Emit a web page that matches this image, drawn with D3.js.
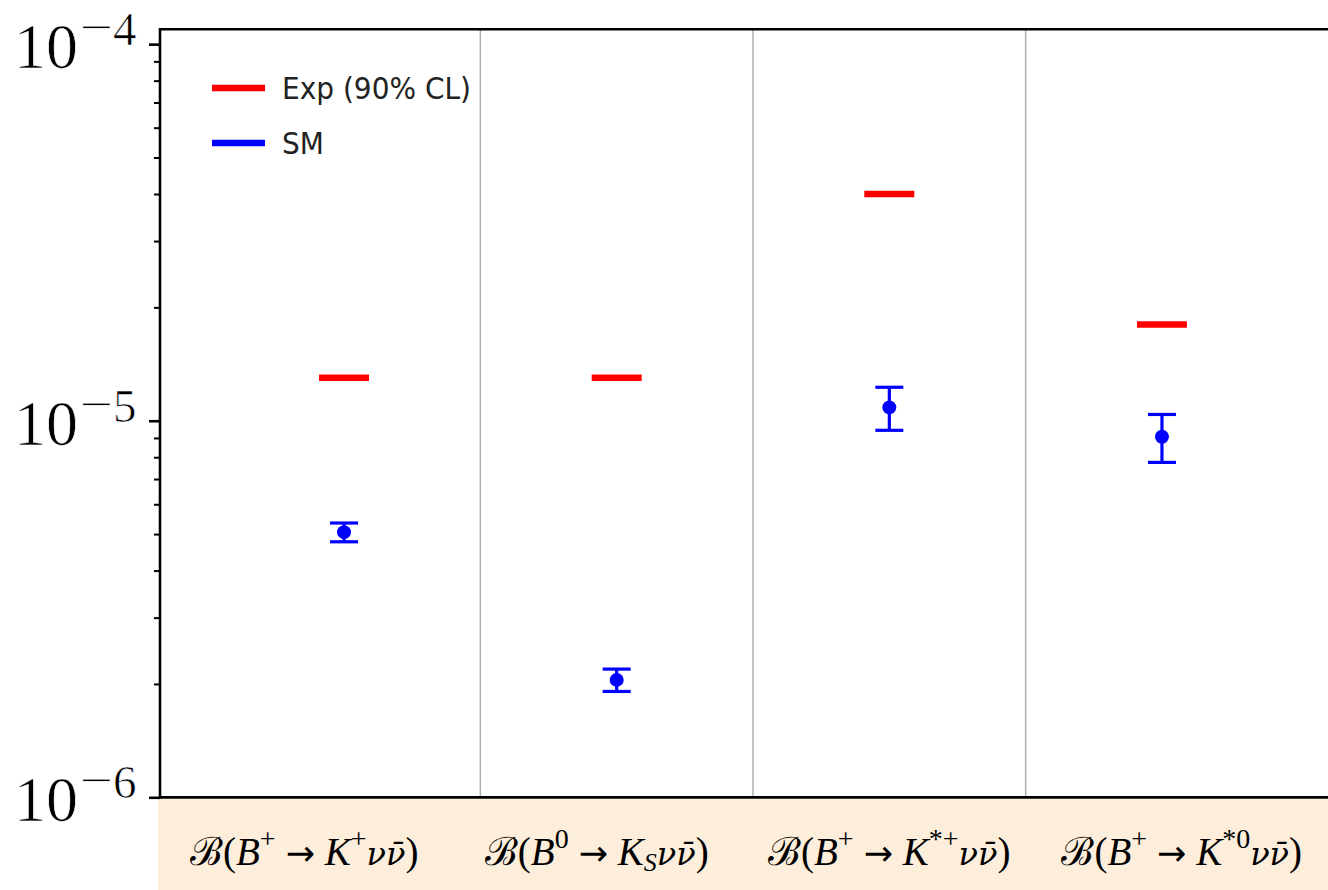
<!DOCTYPE html>
<html>
<head>
<meta charset="utf-8">
<script src="https://cdn.jsdelivr.net/npm/d3@7"></script>
<style>
  html, body { margin: 0; padding: 0; background: #ffffff; }
  svg { display: block; }
</style>
</head>
<body>
<svg id="chart" width="1328" height="890"></svg>
<script>
// Decay channels (x positions 0..3)
const categories = ["B+ -> K+ nu nubar", "B0 -> KS nu nubar", "B+ -> K*+ nu nubar", "B+ -> K*0 nu nubar"];
// Experimental upper limits at 90% CL
const expLimit = [1.3e-5, 1.3e-5, 4.0e-5, 1.8e-5];
// Standard Model predictions and their uncertainties
const smValue = [5.06e-6, 2.05e-6, 1.085e-5, 9.07e-6];
const smError = [0.29e-6, 0.14e-6, 1.42e-6, 1.32e-6];
// Y-axis decades and their exponent labels
const yMajorTicks = [1e-6, 1e-5, 1e-4];
const yTickExponents = ["6", "5", "4"];
// Legend entries
const legendLabels = ["Exp (90% CL)", "SM"];
// Channel labels in the table row: [text, style]
// n = upright, i = italic, g = italic greek, a = arrow, sup = superscript, sub = italic subscript
const channelLabels = [
  [["\u212C", "n"], ["(", "n"], ["B", "i"], ["+", "sup"], ["\u2192", "a"], ["K", "i"], ["+", "sup"], ["\u03BD", "g"], ["\u03BD\u0304", "g"], [")", "n"]],
  [["\u212C", "n"], ["(", "n"], ["B", "i"], ["0", "sup"], ["\u2192", "a"], ["K", "i"], ["S", "sub"], ["\u03BD", "g"], ["\u03BD\u0304", "g"], [")", "n"]],
  [["\u212C", "n"], ["(", "n"], ["B", "i"], ["+", "sup"], ["\u2192", "a"], ["K", "i"], ["*+", "sup"], ["\u03BD", "g"], ["\u03BD\u0304", "g"], [")", "n"]],
  [["\u212C", "n"], ["(", "n"], ["B", "i"], ["+", "sup"], ["\u2192", "a"], ["K", "i"], ["*0", "sup"], ["\u03BD", "g"], ["\u03BD\u0304", "g"], [")", "n"]]
];

const svg = d3.select("#chart");
const plot = { left: 160, top: 29.3, right: 1328, bottom: 797.3 };
const band = { left: 158, top: 799, right: 1328, bottom: 890 };

const x = d3.scaleLinear().domain([-0.675, 3.609]).range([plot.left, plot.right]);
const y = d3.scaleLog().domain([1e-6, 1.095e-4]).range([plot.bottom, plot.top]);

const red = "#ff0000", blue = "#0000ff";
const serif = "'Liberation Serif', 'DejaVu Serif', serif";
const sans = "'DejaVu Sans', sans-serif";

// Table row under the axes
svg.append("rect")
  .attr("x", band.left).attr("y", band.top)
  .attr("width", band.right - band.left).attr("height", band.bottom - band.top)
  .attr("fill", "#fdeedb");

// Vertical separators between channels
svg.append("g").selectAll("line")
  .data(d3.range(categories.length - 1).map(i => i + 0.5))
  .join("line")
  .attr("x1", d => x(d)).attr("x2", d => x(d))
  .attr("y1", plot.top).attr("y2", plot.bottom)
  .attr("stroke", "#b0b0b0").attr("stroke-width", 1.5);

// Experimental limits
const halfW = 25 / (x(1) - x(0));
svg.append("g").selectAll("line")
  .data(expLimit)
  .join("line")
  .attr("x1", (d, i) => x(i - halfW)).attr("x2", (d, i) => x(i + halfW))
  .attr("y1", d => y(d)).attr("y2", d => y(d))
  .attr("stroke", red).attr("stroke-width", 6.5);

// SM predictions with error bars
const capW = 14 / (x(1) - x(0));
const sm = svg.append("g");
smValue.forEach((v, i) => {
  const lo = v - smError[i], hi = v + smError[i];
  sm.append("line")
    .attr("x1", x(i)).attr("x2", x(i))
    .attr("y1", y(lo)).attr("y2", y(hi))
    .attr("stroke", blue).attr("stroke-width", 3.2);
  [lo, hi].forEach(e => {
    sm.append("line")
      .attr("x1", x(i - capW)).attr("x2", x(i + capW))
      .attr("y1", y(e)).attr("y2", y(e))
      .attr("stroke", blue).attr("stroke-width", 3.2);
  });
  sm.append("circle")
    .attr("cx", x(i)).attr("cy", y(v)).attr("r", 7)
    .attr("fill", blue);
});

// Axis frame: left, top, bottom spines
const axisG = svg.append("g");
axisG.append("line").attr("x1", plot.left).attr("x2", plot.left)
  .attr("y1", plot.top - 1.3).attr("y2", plot.bottom + 1.3)
  .attr("stroke", "#000").attr("stroke-width", 2.6);
axisG.append("line").attr("x1", plot.left).attr("x2", plot.right)
  .attr("y1", plot.top).attr("y2", plot.top)
  .attr("stroke", "#000").attr("stroke-width", 2.6);
axisG.append("line").attr("x1", plot.left).attr("x2", plot.right)
  .attr("y1", plot.bottom).attr("y2", plot.bottom)
  .attr("stroke", "#000").attr("stroke-width", 2.8);

// Y ticks through d3's axis generator
const minorTicks = [];
yMajorTicks.slice(0, -1).forEach(m => { for (let k = 2; k <= 9; k++) minorTicks.push(m * k); });

const yMinor = d3.axisLeft(y).tickValues(minorTicks).tickSize(6).tickFormat("");
const yMajor = d3.axisLeft(y).tickValues(yMajorTicks).tickSize(11).tickFormat("");

[yMinor, yMajor].forEach((gen, gi) => {
  const g = svg.append("g").attr("transform", `translate(${plot.left},0)`).call(gen);
  g.select(".domain").remove();
  g.selectAll(".tick line").attr("stroke", "#000").attr("stroke-width", gi === 0 ? 2 : 2.6);
});

// Decade labels 10^-n: mantissa, wide minus and exponent
yMajorTicks.forEach((v, i) => {
  const g = svg.append("g")
    .attr("transform", `translate(0,${y(v)})`)
    .attr("font-family", serif)
    .attr("fill", "#000")
    .attr("stroke", "#fff").attr("stroke-width", 0.7);
  g.append("text")
    .attr("transform", "translate(14,24)")
    .attr("font-size", 64).text("10");
  g.append("text")
    .attr("transform", "translate(80,-1) scale(1.25,1)")
    .attr("font-size", 47).text("\u2212");
  g.append("text")
    .attr("transform", "translate(113,1)")
    .attr("font-size", 47).text(yTickExponents[i]);
});

// Legend
const legend = svg.append("g");
const legendColors = [red, blue];
const legendY = [88, 143];
legendLabels.forEach((lab, i) => {
  legend.append("line")
    .attr("x1", 212).attr("x2", 265)
    .attr("y1", legendY[i]).attr("y2", legendY[i])
    .attr("stroke", legendColors[i]).attr("stroke-width", 6.5);
  legend.append("text")
    .attr("transform", `translate(282,${legendY[i] + 11}) scale(1,1.1)`)
    .attr("font-family", sans).attr("font-size", 28)
    .attr("fill", "#222")
    .text(lab);
});

// Channel labels, one per table cell
const cellW = (band.right - band.left) / channelLabels.length;
channelLabels.forEach((parts, i) => {
  const cx = band.left + cellW * (i + 0.5);
  const t = svg.append("text")
    .attr("x", cx).attr("y", 865)
    .attr("text-anchor", "middle")
    .attr("font-family", serif).attr("font-size", 39)
    .attr("fill", "#000");
  let shift = 0;
  parts.forEach(([txt, st]) => {
    const s = t.append("tspan").text(txt);
    let target = 0;
    if (st === "i") s.attr("font-style", "italic");
    if (st === "g") s.attr("font-style", "italic").attr("font-family", "'DejaVu Serif', serif").attr("font-size", 32);
    if (st === "a") s.attr("font-family", "'DejaVu Sans', sans-serif").attr("font-size", 35).attr("dx", 10);
    if (st === "sup") { s.attr("font-size", 28); target = -17; }
    if (st === "sub") { s.attr("font-size", 26).attr("font-style", "italic"); target = 6; }
    if (target !== shift) { s.attr("dy", target - shift); shift = target; }
    if (st === "a") { t.append("tspan").attr("font-size", 39).text(" "); }
  });
});
</script>
</body>
</html>
